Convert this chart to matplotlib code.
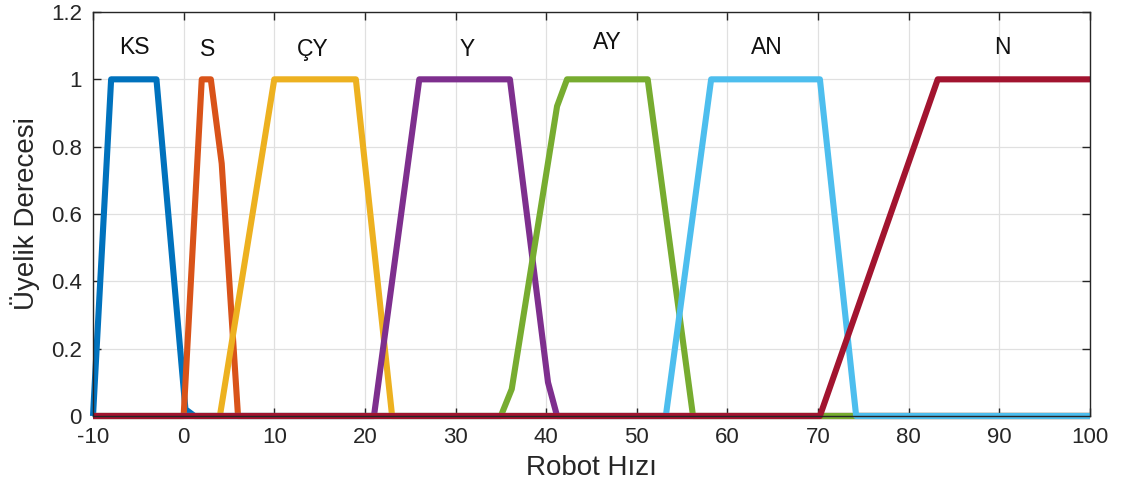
import matplotlib.pyplot as plt

plt.rcParams['font.family'] = ['Liberation Sans', 'DejaVu Sans']
plt.rcParams['axes.unicode_minus'] = False

# membership functions: breakpoints (x) and degrees (y)
names = ['KS', 'S', 'ÇY', 'Y', 'AY', 'AN', 'N']
ks_x = [-10, -8, -3, 0.2, 1.2]
ks_y = [0, 1, 1, 0.02, 0]
s_x = [0, 2, 3, 4.2, 6]
s_y = [0, 1, 1, 0.75, 0]
cy_x = [4, 10, 19, 23]
cy_y = [0, 1, 1, 0]
y_x = [21, 26, 36, 40.2, 41.2]
y_y = [0, 1, 1, 0.1, 0]
ay_x = [35, 36.2, 41.2, 42.3, 51.2, 56.2]
ay_y = [0, 0.08, 0.92, 1, 1, 0]
an_x = [53.2, 58.2, 70.2, 74.2]
an_y = [0, 1, 1, 0]
n_x = [70.2, 83.2, 100]
n_y = [0, 1, 1]

label_x = [-5.4, 2.6, 14.3, 31.3, 46.7, 64.3, 90.3]
label_y = [1.095, 1.09, 1.09, 1.09, 1.11, 1.095, 1.095]

xticks = [-10, 0, 10, 20, 30, 40, 50, 60, 70, 80, 90, 100]
yticks = [0, 0.2, 0.4, 0.6, 0.8, 1, 1.2]
ytick_labels = ['0', '0.2', '0.4', '0.6', '0.8', '1', '1.2']

colors = ['#0072BD', '#D95319', '#EDB120', '#7E2F8E', '#77AC30', '#4DBEEE', '#A2142F']

X_MIN, X_MAX = -10, 100


def full_range(xs, ys):
    # each curve is sampled over the whole universe, zero outside its support
    xs = list(xs)
    ys = list(ys)
    if xs[0] > X_MIN:
        xs = [X_MIN] + xs
        ys = [0] + ys
    if xs[-1] < X_MAX:
        xs = xs + [X_MAX]
        ys = ys + [ys[-1]]
    return xs, ys


curves = [(ks_x, ks_y), (s_x, s_y), (cy_x, cy_y), (y_x, y_y),
          (ay_x, ay_y), (an_x, an_y), (n_x, n_y)]

fig = plt.figure(figsize=(11.25, 5.01), dpi=100)
ax = fig.add_axes([93 / 1125, 85 / 501, 997 / 1125, 404 / 501])

for (xs, ys), c in zip(curves, colors):
    fx, fy = full_range(xs, ys)
    ax.plot(fx, fy, color=c, linewidth=4.4, solid_joinstyle='round',
            solid_capstyle='butt', clip_on=False)

for name, lx, ly in zip(names, label_x, label_y):
    ax.text(lx, ly, name, ha='center', va='center', fontsize=16.5, color='#111111')

ax.set_xlim(X_MIN, X_MAX)
ax.set_ylim(0, 1.2)
ax.set_xticks(xticks)
ax.set_yticks(yticks)
ax.set_yticklabels(ytick_labels)
ax.grid(True, color='#e0e0e0', linewidth=0.9)
ax.set_axisbelow(True)
ax.tick_params(direction='in', length=6, width=1, top=True, right=True,
               labelsize=16, colors='#262626', pad=8)
for sp in ax.spines.values():
    sp.set_color('#262626')
    sp.set_linewidth(1)

ax.set_xlabel('Robot Hızı', fontsize=20, color='#262626', labelpad=5)
ax.set_ylabel('Üyelik Derecesi', fontsize=20, color='#262626', labelpad=8)

fig.savefig('out.png', dpi=100)
